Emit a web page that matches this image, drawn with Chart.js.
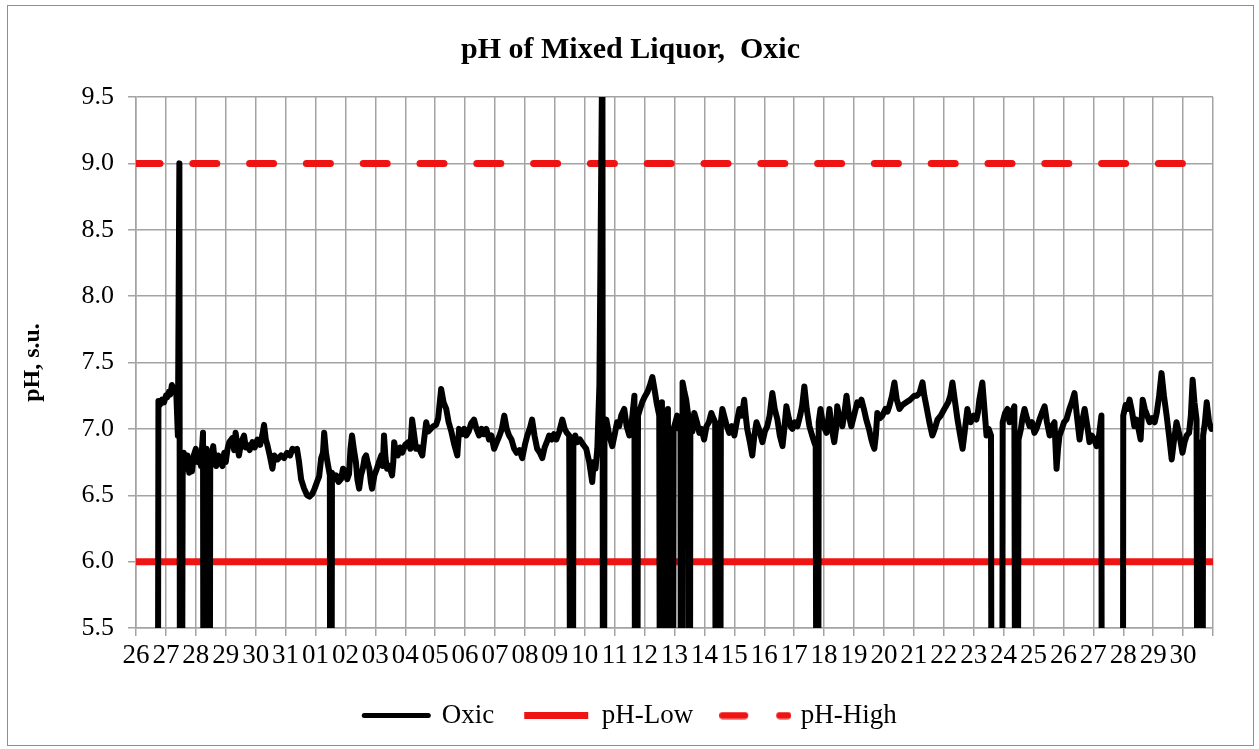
<!DOCTYPE html>
<html><head><meta charset="utf-8">
<script src="https://cdn.jsdelivr.net/npm/chart.js@4.4.1/dist/chart.umd.min.js"></script>
<style>
html,body{margin:0;padding:0;background:#fff;}
#wrap{position:absolute;left:7px;top:5px;width:1245px;height:739px;border:1px solid #8e8e8e;background:#fff;}
canvas{display:block;}
</style></head><body>
<div id="wrap"><canvas id="c" width="1245" height="739"></canvas></div>
<script>
// x tick labels (one per day, starting at the 26th)
const xTickLabels = ['26','27','28','29','30','31','01','02','03','04','05','06','07','08','09','10',
  '11','12','13','14','15','16','17','18','19','20','21','22','23','24','25','26','27','28','29','30',''];

// Oxic pH readings: time in days from the first tick, value in s.u. (0 = missing / off-scale reading)
const oxicDay = [
  0.70,0.75,0.80,0.87,0.94,1.00,1.05,1.10,1.15,1.20,
  1.27,1.34,1.40,1.45,1.49,1.56,1.60,1.67,1.72,1.78,
  1.83,1.87,1.93,2.00,2.06,2.11,2.17,2.24,2.28,2.32,
  2.36,2.40,2.44,2.48,2.53,2.58,2.63,2.68,2.75,2.80,
  2.89,2.95,3.00,3.06,3.12,3.22,3.28,3.33,3.40,3.44,
  3.52,3.61,3.67,3.72,3.80,3.89,3.97,4.06,4.15,4.22,
  4.28,4.34,4.39,4.47,4.56,4.62,4.73,4.85,4.95,5.05,
  5.15,5.23,5.30,5.38,5.45,5.52,5.62,5.72,5.80,5.89,
  5.97,6.05,6.12,6.19,6.25,6.29,6.35,6.40,6.48,6.51,
  6.55,6.62,6.69,6.77,6.85,6.92,7.00,7.06,7.12,7.17,
  7.22,7.28,7.35,7.40,7.46,7.52,7.58,7.64,7.69,7.75,
  7.80,7.85,7.89,7.97,8.05,8.12,8.20,8.25,8.29,8.34,
  8.39,8.47,8.56,8.60,8.63,8.69,8.75,8.83,8.90,9.00,
  9.10,9.17,9.23,9.30,9.36,9.45,9.57,9.63,9.70,9.77,
  9.85,9.94,10.03,10.10,10.20,10.28,10.37,10.45,10.54,10.64,
  10.74,10.80,10.90,10.97,11.04,11.12,11.20,11.30,11.38,11.47,
  11.55,11.63,11.71,11.80,11.88,11.97,12.06,12.15,12.23,12.31,
  12.39,12.47,12.55,12.64,12.72,12.82,12.91,13.00,13.08,13.16,
  13.24,13.32,13.41,13.50,13.58,13.66,13.73,13.81,13.90,13.97,
  14.05,14.15,14.25,14.33,14.40,14.48,14.58,14.62,14.68,14.75,
  14.84,14.95,15.05,15.15,15.25,15.30,15.36,15.42,15.49,15.59,
  15.62,15.66,15.72,15.82,15.92,16.02,16.08,16.15,16.22,16.32,
  16.40,16.49,16.57,16.66,16.72,16.78,16.85,16.92,17.00,17.10,
  17.18,17.26,17.33,17.40,17.49,17.55,17.58,17.65,17.68,17.75,
  17.78,17.85,17.88,17.93,17.97,18.03,18.09,18.15,18.20,18.23,
  18.27,18.33,18.39,18.46,18.49,18.53,18.60,18.66,18.75,18.83,
  18.90,18.99,19.07,19.15,19.23,19.30,19.36,19.40,19.45,19.50,
  19.55,19.60,19.68,19.75,19.83,19.92,20.00,20.08,20.17,20.25,
  20.33,20.38,20.43,20.52,20.60,20.67,20.74,20.82,20.88,20.94,
  21.02,21.10,21.18,21.27,21.35,21.44,21.52,21.61,21.67,21.74,
  21.82,21.88,21.94,22.02,22.11,22.20,22.27,22.34,22.42,22.51,
  22.60,22.67,22.72,22.78,22.82,22.88,22.95,23.02,23.08,23.13,
  23.18,23.26,23.34,23.40,23.44,23.52,23.61,23.68,23.75,23.83,
  23.91,24.00,24.11,24.18,24.25,24.33,24.41,24.50,24.58,24.63,
  24.68,24.73,24.78,24.86,24.95,25.05,25.12,25.18,25.27,25.35,
  25.43,25.52,25.62,25.75,25.88,26.02,26.10,26.19,26.29,26.35,
  26.42,26.52,26.62,26.70,26.79,26.90,27.02,27.15,27.22,27.29,
  27.38,27.46,27.55,27.63,27.70,27.79,27.85,27.90,28.00,28.09,
  28.14,28.19,28.29,28.36,28.43,28.50,28.58,28.62,28.93,28.97,
  29.05,29.13,29.20,29.28,29.36,29.43,29.50,29.58,29.63,29.70,
  29.78,29.87,29.95,30.03,30.10,30.20,30.28,30.37,30.45,30.54,
  30.62,30.70,30.77,30.82,30.87,30.95,31.02,31.10,31.20,31.28,
  31.37,31.45,31.54,31.62,31.71,31.80,31.87,31.95,32.03,32.11,
  32.19,32.27,32.30,32.97,33.00,33.08,33.14,33.21,33.30,33.37,
  33.44,33.51,33.58,33.65,33.72,33.80,33.88,33.97,34.05,34.12,
  34.20,34.28,34.36,34.45,34.53,34.62,34.70,34.78,34.88,34.98,
  35.05,35.12,35.20,35.26,35.32,35.38,35.45,35.52,35.57,35.62,
  35.67,35.73,35.79,35.87,35.95
];
const oxicPH = [
  0,7.21,7.18,7.22,7.20,7.25,7.24,7.28,7.26,7.33,
  7.30,7.31,6.95,9.00,0,6.65,6.82,6.70,6.80,6.67,
  6.72,6.68,6.80,6.85,6.75,6.80,6.72,6.97,0,6.75,
  6.85,6.78,0,6.70,6.80,6.87,6.76,6.72,6.80,6.76,
  6.72,6.82,6.75,6.85,6.90,6.93,6.84,6.97,6.85,6.80,
  6.90,6.95,6.86,6.88,6.84,6.90,6.86,6.92,6.88,6.95,
  7.03,6.92,6.88,6.80,6.70,6.80,6.77,6.80,6.78,6.82,
  6.80,6.85,6.84,6.85,6.75,6.62,6.55,6.50,6.49,6.51,
  6.55,6.60,6.64,6.78,6.82,6.97,6.82,6.75,6.65,0,
  6.67,6.62,6.65,6.60,6.62,6.70,6.68,6.62,6.66,6.85,
  6.95,6.85,6.75,6.62,6.55,6.65,6.70,6.78,6.80,6.74,
  6.70,6.60,6.55,6.65,6.70,6.75,6.80,6.72,6.95,6.78,
  6.70,6.72,6.65,6.75,6.90,6.82,6.80,6.86,6.82,6.88,
  6.90,6.85,7.07,6.95,6.85,6.86,6.80,6.92,7.05,6.98,
  7.00,7.02,7.03,7.08,7.30,7.20,7.15,7.05,6.98,6.88,
  6.80,7.00,6.96,7.00,6.95,6.98,7.04,7.07,7.00,6.95,
  7.00,6.96,7.00,6.92,6.95,6.85,6.90,6.95,7.00,7.10,
  7.00,6.95,6.92,6.85,6.82,6.84,6.78,6.88,6.95,7.00,
  7.07,6.95,6.85,6.82,6.78,6.86,6.90,6.95,6.92,6.96,
  6.92,6.98,7.07,7.00,6.97,6.95,0,6.92,6.95,6.90,
  6.92,6.88,6.85,6.75,6.60,6.75,6.70,6.85,7.33,10.0,
  0,7.00,7.07,6.95,6.87,6.98,7.05,7.02,7.10,7.15,
  7.02,6.95,7.05,7.25,0,7.10,7.15,7.20,7.24,7.28,
  7.33,7.39,7.30,7.20,7.10,0,7.20,0,7.05,0,
  7.15,0,7.00,0,7.00,7.05,7.10,7.00,7.05,0,
  7.35,7.28,7.22,7.10,0,7.05,6.98,7.12,7.05,6.97,
  7.00,6.92,7.02,7.05,7.12,7.08,7.05,0,7.00,0,
  7.05,7.15,7.08,7.02,6.97,7.02,6.95,7.05,7.15,7.10,
  7.22,7.10,7.00,6.90,6.80,6.95,7.05,7.00,6.95,6.90,
  6.98,7.02,7.10,7.27,7.15,7.07,6.95,6.87,7.00,7.17,
  7.08,7.02,7.00,7.05,7.02,7.10,7.18,7.32,7.15,7.02,
  6.95,6.90,6.87,0,7.05,7.15,7.05,7.00,6.97,7.05,
  7.15,7.00,6.90,7.00,7.17,7.08,7.02,7.12,7.25,7.10,
  7.02,7.10,7.20,7.18,7.22,7.15,7.07,7.00,6.92,6.88,
  6.85,6.95,7.12,7.08,7.10,7.15,7.13,7.17,7.25,7.35,
  7.22,7.15,7.18,7.20,7.22,7.25,7.25,7.27,7.35,7.25,
  7.17,7.05,6.95,7.00,7.07,7.10,7.15,7.20,7.25,7.35,
  7.20,7.07,6.95,6.85,6.98,7.15,7.08,7.05,7.10,7.07,
  7.12,7.22,7.35,7.15,6.95,7.00,6.95,0,0,7.05,
  7.12,7.15,7.05,7.12,7.17,0,6.92,7.00,7.08,7.15,
  7.08,7.02,7.05,6.97,7.00,7.07,7.12,7.17,7.05,6.95,
  7.02,7.05,6.70,6.85,6.95,7.00,7.05,7.07,7.15,7.20,
  7.27,7.10,6.92,7.05,7.15,7.02,6.90,6.95,6.92,6.87,
  6.95,7.10,0,0,7.10,7.18,7.15,7.22,7.12,7.02,
  7.07,7.00,6.92,7.22,7.15,7.10,7.05,7.08,7.05,7.12,
  7.25,7.42,7.25,7.10,6.95,6.77,6.92,7.05,6.95,6.82,
  6.90,6.95,6.97,7.10,7.37,7.20,7.07,0,6.90,0,
  6.95,7.05,7.20,7.05,7.00
];

// Limit lines
const limitDay = [0, 36];
const phLow = [6.0, 6.0];
const phHigh = [9.0, 9.0];

const serif = "'Liberation Serif','Times New Roman',serif";
const gridGray = '#a3a3a3';
const red = '#ef1414';

const toPts = (xs, ys) => xs.map((d, i) => ({x: d, y: ys[i]}));

// legend symbol for the dashed limit: long dash, gap, short dash (as in the source legend)
function dashedSymbol() {
  const cv = document.createElement('canvas');
  cv.width = 72; cv.height = 8;
  const g = cv.getContext('2d');
  g.strokeStyle = red; g.lineWidth = 7; g.lineCap = 'round';
  g.beginPath(); g.moveTo(3.5, 4); g.lineTo(25.5, 4); g.stroke();
  g.beginPath(); g.moveTo(60.5, 4); g.lineTo(68.5, 4); g.stroke();
  return cv;
}
const highSymbol = dashedSymbol();

new Chart(document.getElementById('c'), {
  type: 'line',
  data: {
    datasets: [
      {label: 'Oxic', data: toPts(oxicDay, oxicPH), borderColor: '#000', backgroundColor: '#000',
       borderWidth: 6, pointRadius: 0, borderJoinStyle: 'round', borderCapStyle: 'round', tension: 0, clip: 0},
      {label: 'pH-Low', data: toPts(limitDay, phLow), borderColor: red, backgroundColor: red,
       borderWidth: 7, pointRadius: 0, borderCapStyle: 'butt'},
      {label: 'pH-High', data: toPts(limitDay, phHigh), borderColor: red, backgroundColor: red,
       borderWidth: 7, pointRadius: 0, borderDash: [24, 32.8], borderCapStyle: 'round'}
    ]
  },
  options: {
    responsive: false,
    animation: false,
    events: [],
    layout: {padding: {top: 0, left: 0, right: 0, bottom: 6}},
    plugins: {
      title: {display: true, text: 'pH of Mixed Liquor,  Oxic', color: '#000',
        font: {family: serif, size: 30, weight: 'bold'}, padding: {top: 26, bottom: 29}},
      legend: {position: 'bottom',
        labels: {font: {family: serif, size: 27}, color: '#000', usePointStyle: true, pointStyle: 'line',
          pointStyleWidth: 64, padding: 30,
          generateLabels(chart) {
            const items = Chart.defaults.plugins.legend.labels.generateLabels(chart);
            items.forEach(it => {
              const ds = chart.data.datasets[it.datasetIndex];
              it.lineWidth = ds.label === 'Oxic' ? 5 : ds.borderWidth;
              it.lineDash = [];
              it.lineCap = ds.label === 'pH-Low' ? 'butt' : 'round';
              it.strokeStyle = ds.borderColor;
              if (ds.label === 'pH-High') it.pointStyle = highSymbol;
            });
            return items;
          }}},
      tooltip: {enabled: false}
    },
    scales: {
      x: {type: 'linear', min: 0, max: 36,
        ticks: {stepSize: 1, autoSkip: false, maxRotation: 0, minRotation: 0, padding: 4,
          font: {family: serif, size: 27}, color: '#000',
          callback: v => xTickLabels[Math.round(v)] ?? ''},
        grid: {color: gridGray, lineWidth: 1.5, tickLength: 8},
        border: {color: gridGray, width: 1.5},
        afterFit: s => { s.height = 44; }},
      y: {min: 5.5, max: 9.5,
        ticks: {stepSize: 0.5, padding: 14, font: {family: serif, size: 26}, color: '#000',
          callback: v => v.toFixed(1)},
        grid: {color: gridGray, lineWidth: 1.5, tickLength: 8},
        border: {color: gridGray, width: 1.5},
        title: {display: true, text: 'pH, s.u.', color: '#000',
          font: {family: serif, size: 24, weight: 'bold'}, padding: {top: 10, bottom: 0}},
        afterFit: s => { s.width = 128; }},
      yR: {position: 'right', display: true, grid: {display: false}, border: {display: false},
        ticks: {display: false}, afterFit: s => { s.width = 40; }}
    }
  }
});
</script>
</body></html>
